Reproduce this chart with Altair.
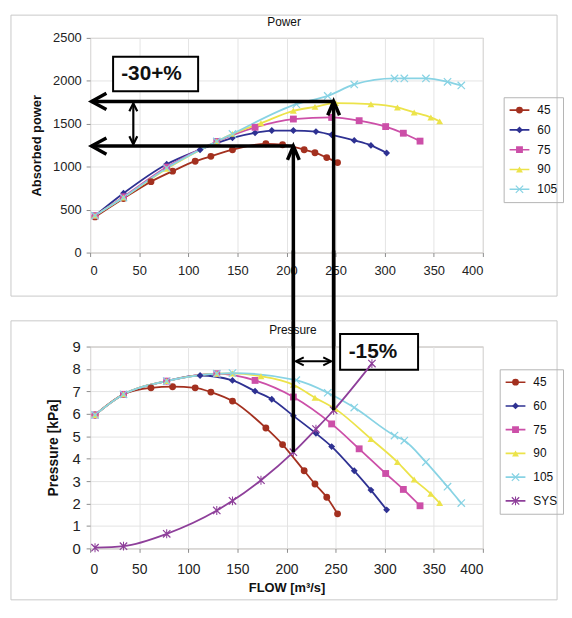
import altair as alt
import pandas as pd

# ---------------- data ----------------
SERIES = ["45", "60", "75", "90", "105"]
SERIES_P = SERIES + ["SYS"]
COLORS = ["#a3301f", "#2e3192", "#cc4fa8", "#ece34a", "#88d3e4"]
COLORS_P = COLORS + ["#8e3f9a"]

X_PATH = ("M-1.2,-0.95L-0.95,-1.2L0,-0.25L0.95,-1.2L1.2,-0.95L0.25,0L1.2,0.95"
          "L0.95,1.2L0,0.25L-0.95,1.2L-1.2,0.95L-0.25,0Z")
STAR_PATH = X_PATH + "M-0.15,-1.3L0.15,-1.3L0.15,1.3L-0.15,1.3Z"
SHAPES = ["circle", "diamond", "square", "triangle-up", X_PATH]
SHAPES_P = SHAPES + [STAR_PATH]

# Power panel (absorbed power vs flow)
pw45_flow = [5, 34, 62, 84, 107, 123, 145, 179, 196, 218, 229, 241, 252]
pw45_val = [415, 630, 826, 948, 1064, 1121, 1198, 1267, 1256, 1198, 1163, 1106, 1048]
pw60_flow = [5, 34, 78, 112, 145, 168, 185, 207, 230, 246, 269, 286, 302]
pw60_val = [430, 691, 1029, 1198, 1336, 1394, 1421, 1421, 1409, 1371, 1306, 1248, 1160]
pw75_flow = [5, 34, 78, 129, 168, 207, 246, 274, 301, 319, 336]
pw75_val = [430, 650, 995, 1294, 1459, 1555, 1574, 1536, 1467, 1390, 1298]
pw90_flow = [5, 34, 78, 129, 145, 174, 207, 229, 250, 286, 313, 330, 347, 356]
pw90_val = [430, 640, 975, 1294, 1382, 1506, 1651, 1697, 1740, 1728, 1690, 1632, 1574, 1528]
pw105_flow = [5, 34, 78, 129, 145, 210, 242, 269, 310, 320, 342, 364, 378]
pw105_val = [430, 640, 985, 1294, 1382, 1728, 1824, 1958, 2028, 2028, 2028, 1989, 1947]

# Pressure panel (kPa vs flow)
pr45_flow = [5, 34, 62, 84, 107, 123, 145, 179, 196, 218, 229, 241, 252]
pr45_val = [5.95, 6.87, 7.16, 7.21, 7.16, 6.97, 6.57, 5.37, 4.63, 3.46, 2.87, 2.28, 1.54]
pr60_flow = [5, 34, 78, 112, 145, 168, 185, 207, 230, 246, 269, 286, 302]
pr60_val = [5.95, 6.87, 7.46, 7.71, 7.49, 7.01, 6.65, 5.91, 5.13, 4.54, 3.46, 2.60, 1.72]
pr75_flow = [5, 34, 78, 129, 168, 207, 246, 274, 301, 319, 336]
pr75_val = [5.95, 6.87, 7.46, 7.79, 7.49, 6.75, 5.55, 4.44, 3.34, 2.63, 1.90]
pr90_flow = [5, 34, 78, 129, 145, 174, 207, 229, 250, 286, 313, 330, 347, 356]
pr90_val = [5.95, 6.87, 7.46, 7.79, 7.80, 7.68, 7.30, 6.72, 6.21, 4.88, 3.85, 3.07, 2.43, 2.02]
pr105_flow = [5, 34, 78, 129, 145, 210, 242, 269, 310, 320, 342, 364, 378]
pr105_val = [5.95, 6.87, 7.46, 7.79, 7.82, 7.50, 6.94, 6.28, 5.03, 4.81, 3.85, 2.75, 2.02]
sys_flow = [5, 34, 78, 129, 145, 174, 207, 230, 248, 287]
sys_val = [0.03, 0.10, 0.65, 1.69, 2.12, 3.04, 4.29, 5.32, 6.16, 8.24]

# annotation values (data units)
POWER_HI, POWER_LO = 1760, 1240
FLOW_A, FLOW_B = 207, 248
P_A, P_B = 4.29, 6.16

# ---------------- layout ----------------
W = 397
H_TOP = 217
H_BOT = 204
SPACING = 95
kx = W / 400
ky_t = H_TOP / 2500
ky_b = H_BOT / 9
FONT = "Liberation Sans"


def long_df(flows, vals, names):
    rows = []
    for n, fl, vl in zip(names, flows, vals):
        for f, v in zip(fl, vl):
            rows.append({"series": n, "sline": n, "flow": f, "val": v})
    return pd.DataFrame(rows)


top_df = long_df([pw45_flow, pw60_flow, pw75_flow, pw90_flow, pw105_flow],
                 [pw45_val, pw60_val, pw75_val, pw90_val, pw105_val], SERIES)
bot_df = long_df([pr45_flow, pr60_flow, pr75_flow, pr90_flow, pr105_flow, sys_flow],
                 [pr45_val, pr60_val, pr75_val, pr90_val, pr105_val, sys_val], SERIES_P)

XS = alt.Scale(domain=[0, 400], nice=False, zero=False)

LEFT = "M2,-1.1L0,0L2,1.1"
UP = "M-0.85,2L0,0L0.85,2"
UP_S = "M-1,2L0,0L1,2"
DOWN_S = "M-1,-2L0,0L1,-2"
LEFT_S = "M2,-1L0,0L2,1"
RIGHT_S = "M-2,-1L0,0L-2,1"

LINE_SYM = 400      # legend line length^2
LINE_CELL = 22      # ceil(sqrt(LINE_SYM) + stroke width)
MARK_CELL = 12      # legend label font size dominates marker cell
MARK_SIZE = 48


class Panel:
    def __init__(self, ys, x_axis, y_axis):
        self.ys = ys
        self.xa = x_axis
        self.ya = y_axis

    def X(self):
        return alt.X("flow:Q", scale=XS, axis=self.xa)

    def Y(self):
        return alt.Y("val:Q", scale=self.ys, axis=self.ya)

    def series(self, df, names, colors, shapes, lx, ly, clip_h, row_pad):
        # line-sample legend (no labels), overlaid by the marker legend below
        lines = alt.Chart(df).mark_line(interpolate="monotone", strokeWidth=1.8).encode(
            x=self.X(), y=self.Y(),
            stroke=alt.Stroke("sline:N", sort=names, scale=alt.Scale(range=colors),
                              legend=alt.Legend(title=None, orient="none", legendX=lx,
                                                legendY=ly, symbolType="stroke",
                                                symbolSize=LINE_SYM, symbolStrokeWidth=1.6,
                                                labelExpr="''", labelFontSize=12,
                                                labelOffset=2, padding=5,
                                                clipHeight=clip_h, rowPadding=row_pad,
                                                zindex=0)),
        )
        leg = alt.Legend(title=None, orient="none", legendX=lx, legendY=ly,
                         symbolSize=MARK_SIZE, symbolStrokeWidth=0,
                         symbolOffset=(LINE_CELL - MARK_CELL) / 2,
                         labelOffset=LINE_CELL + 2 - MARK_CELL,
                         labelFontSize=12, labelColor="#111", padding=5, clipHeight=clip_h,
                         rowPadding=row_pad, zindex=1, symbolOpacity=1,
                         strokeColor="#b4b4b4")
        pts = alt.Chart(df).mark_point(filled=True, opacity=1, size=MARK_SIZE).encode(
            x=self.X(), y=self.Y(),
            fill=alt.Fill("series:N", scale=alt.Scale(domain=names, range=colors), legend=leg),
            shape=alt.Shape("series:N", scale=alt.Scale(domain=names, range=shapes),
                            legend=leg),
        )
        return [lines, pts]

    def frame(self, x1, x2, y1, y2):
        d = pd.DataFrame({"flow": [x1], "flow2": [x2], "val": [y1], "val2": [y2]})
        return alt.Chart(d).mark_rect(fillOpacity=0, stroke="#c8c8c8", strokeWidth=1).encode(
            x=self.X(), x2="flow2:Q", y=self.Y(), y2="val2:Q")

    def hrules(self, x1, x2, y, width):
        d = pd.DataFrame({"flow": x1, "flow2": x2, "val": y})
        return alt.Chart(d).mark_rule(strokeWidth=width, color="black").encode(
            x=self.X(), x2="flow2:Q", y=self.Y())

    def vrules(self, x, y1, y2, width):
        d = pd.DataFrame({"flow": x, "val": y1, "val2": y2})
        return alt.Chart(d).mark_rule(strokeWidth=width, color="black").encode(
            x=self.X(), y=self.Y(), y2="val2:Q")

    def heads(self, x, y, shape, size, width):
        d = pd.DataFrame({"flow": x, "val": y})
        return alt.Chart(d).mark_point(shape=shape, size=size, filled=False, color="black",
                                       strokeWidth=width, opacity=1).encode(
            x=self.X(), y=self.Y())

    def label(self, x, y, text, size, weight):
        d = pd.DataFrame({"flow": [x], "val": [y], "label": [text]})
        return alt.Chart(d).mark_text(font=FONT, fontSize=size, fontWeight=weight,
                                      color="#111", align="center",
                                      baseline="middle").encode(
            x=self.X(), y=self.Y(), text="label:N")

    def textbox(self, x1, x2, y1, y2, tx, ty, text):
        d = pd.DataFrame({"flow": [x1], "flow2": [x2], "val": [y1], "val2": [y2]})
        box = alt.Chart(d).mark_rect(fill="white", stroke="black", strokeWidth=2).encode(
            x=self.X(), x2="flow2:Q", y=self.Y(), y2="val2:Q")
        return [box, self.label(tx, ty, text, 21, "bold")]


# ---------------- top panel ----------------
YS_T = alt.Scale(domain=[0, 2500], nice=False, zero=False)
x_axis_t = alt.Axis(values=list(range(0, 401, 50)), title=None, grid=True, gridColor="#e4e4e4",
                    domain=False, tickColor="#8c8c8c", tickSize=4, labelPadding=8,
                    labelFontSize=13, labelColor="#222", format="d")
y_axis_t = alt.Axis(values=list(range(0, 2501, 500)), title="Absorbed power", grid=True,
                    gridColor="#e4e4e4", domain=False, tickColor="#8c8c8c", tickSize=4,
                    labelPadding=5, labelFontSize=13, labelColor="#222", titleFontSize=13,
                    titleFontWeight="bold", titleColor="#111", titlePadding=9, format="d")
T = Panel(YS_T, x_axis_t, y_axis_t)
low_t = -(SPACING + 2) / ky_t
top_layers = (
    T.series(top_df, SERIES, COLORS, SHAPES, 418, 60, 16, 4)
    + [
        T.frame(-80 / kx, 400 + 75 / kx, 2500 + 23 / ky_t, -44 / ky_t),
        T.label(197.5, 2500 + 16 / ky_t, "Power", 12, "normal"),
        T.hrules([1.5, 1.5], [FLOW_B, FLOW_A], [POWER_HI, POWER_LO], 3.5),
        T.vrules([FLOW_A, FLOW_B], [POWER_LO, POWER_HI], [low_t, low_t], 3.5),
        T.heads([1.5, 1.5], [POWER_HI, POWER_LO], LEFT, 225, 3.5),
        T.heads([FLOW_A, FLOW_B], [POWER_LO, POWER_HI], UP, 196, 3.5),
        T.vrules([44], [POWER_LO + 22], [POWER_HI - 22], 2.2),
        T.heads([44], [POWER_HI - 22], UP_S, 64, 2.2),
        T.heads([44], [POWER_LO + 22], DOWN_S, 64, 2.2),
    ]
    + T.textbox(23.4, 110, 1878, 2281, 62.5, 2074, "-30+%")
)
top = alt.layer(*top_layers).properties(width=W, height=H_TOP)

# ---------------- bottom panel ----------------
YS_B = alt.Scale(domain=[0, 9], nice=False, zero=False)
x_axis_b = alt.Axis(values=list(range(0, 401, 50)), title="FLOW [m³/s]", grid=True,
                    gridColor="#e4e4e4", domain=False, tickColor="#8c8c8c", tickSize=4,
                    labelPadding=10, labelFontSize=14, labelColor="#222", titleFontSize=13,
                    titleFontWeight="bold", titleColor="#111", titlePadding=6, format="d")
y_axis_b = alt.Axis(values=list(range(0, 10)), title="Pressure [kPa]", grid=True,
                    gridColor="#e4e4e4", domain=False, tickColor="#8c8c8c", tickSize=4,
                    labelPadding=6, labelFontSize=15, labelColor="#222", titleFontSize=14,
                    titleFontWeight="bold", titleColor="#111", titlePadding=12, format="d")
B = Panel(YS_B, x_axis_b, y_axis_b)
high_b = 9 + (SPACING + 2) / ky_b
bot_layers = (
    B.textbox(254.6, 334, 7.97, 9.56, 288, 8.74, "-15%")
    + B.series(bot_df, SERIES_P, COLORS_P, SHAPES_P, 414, 23, 16, 8)
    + [
        B.frame(-80 / kx, 400 + 75 / kx, 9 + 26 / ky_b, -52 / ky_b),
        B.label(206.5, 9 + 17 / ky_b, "Pressure", 12, "normal"),
        B.vrules([FLOW_A, FLOW_B], [P_A, P_B], [high_b, high_b], 3.5),
        B.hrules([FLOW_A + 2.5], [FLOW_B - 2.5], [8.34], 2),
        B.heads([FLOW_A + 2.5], [8.34], LEFT_S, 64, 2),
        B.heads([FLOW_B - 2.5], [8.34], RIGHT_S, 64, 2),
    ]
)
bottom = alt.layer(*bot_layers).properties(width=W, height=H_BOT)

chart = alt.vconcat(top, bottom, spacing=SPACING, bounds="flush").resolve_scale(
    x="independent", y="independent", fill="independent", shape="independent",
    stroke="independent").resolve_legend(
    fill="independent", shape="independent", stroke="independent").properties(
    padding={"left": 2, "top": 2, "right": 0, "bottom": 0},
    background="white",
).configure_view(stroke="#a89f96", strokeWidth=1).configure_axis(
    labelFont=FONT, titleFont=FONT).configure_legend(labelFont=FONT)

chart.save("out.html", embed_options={"renderer": "svg", "actions": False})
